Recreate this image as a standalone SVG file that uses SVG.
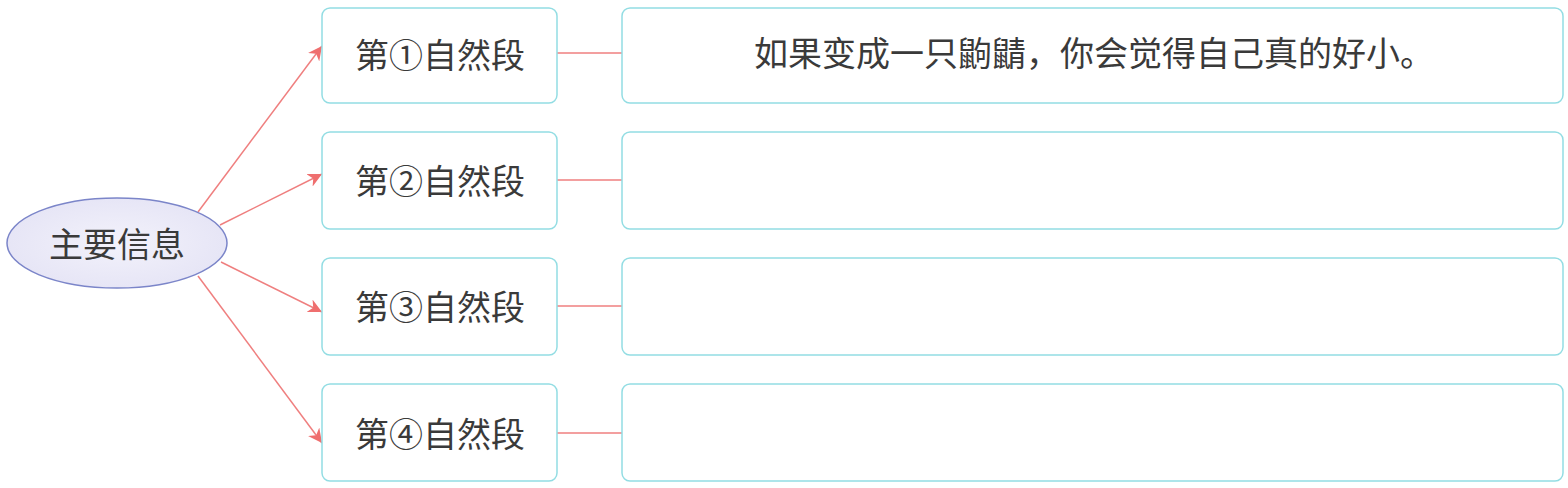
<svg xmlns="http://www.w3.org/2000/svg" width="1568" height="488" viewBox="0 0 1568 488">
<style>
.box{fill:#ffffff;stroke:#93dde3;stroke-width:1.5}
.t{font-family:"Noto Sans CJK SC","Noto Sans CJK JP",sans-serif;font-size:34px;fill:#3a3a3a}
.c{stroke:#ef7f7f;stroke-width:1.5;fill:none}
</style>
<defs>
<marker id="ah" viewBox="0 0 10 10" refX="10" refY="5" markerWidth="14" markerHeight="14" markerUnits="userSpaceOnUse" orient="auto">
<path d="M0,0 L10,5 L0,10 L3,5 Z" fill="#ef6f6f"/>
</marker>
<radialGradient id="eg" cx="50%" cy="50%" r="60%">
<stop offset="0" stop-color="#f3f2fb"/>
<stop offset="1" stop-color="#e4e3f5"/>
</radialGradient>
</defs>
<rect width="1568" height="488" fill="#ffffff"/>
<g id="connectors">
<line class="c" x1="198" y1="212" x2="322" y2="46" marker-end="url(#ah)"/>
<line class="c" x1="220" y1="225" x2="322" y2="174" marker-end="url(#ah)"/>
<line class="c" x1="221" y1="262" x2="322" y2="312" marker-end="url(#ah)"/>
<line class="c" x1="198" y1="276" x2="322" y2="443" marker-end="url(#ah)"/>
<line class="c" x1="557" y1="53" x2="622" y2="53"/>
<line class="c" x1="557" y1="180" x2="622" y2="180"/>
<line class="c" x1="557" y1="306" x2="622" y2="306"/>
<line class="c" x1="557" y1="433" x2="622" y2="433"/>
</g>
<g id="main">
<ellipse cx="117" cy="243" rx="110" ry="45" fill="url(#eg)" stroke="#7b85c9" stroke-width="1.5"/>
<text class="t" x="117" y="257" text-anchor="middle">主要信息</text>
</g>
<g id="p1">
<rect class="box" x="322" y="8" width="235" height="95" rx="8"/>
<text class="t" x="440" y="68" text-anchor="middle">第①自然段</text>
</g>
<g id="p2">
<rect class="box" x="322" y="132" width="235" height="97" rx="8"/>
<text class="t" x="440" y="194" text-anchor="middle">第②自然段</text>
</g>
<g id="p3">
<rect class="box" x="322" y="258" width="235" height="97" rx="8"/>
<text class="t" x="440" y="320" text-anchor="middle">第③自然段</text>
</g>
<g id="p4">
<rect class="box" x="322" y="384" width="235" height="97" rx="8"/>
<text class="t" x="440" y="447" text-anchor="middle">第④自然段</text>
</g>
<g id="a1">
<rect class="box" x="622" y="8" width="941" height="95" rx="8"/>
<text class="t" x="1094" y="66" text-anchor="middle">如果变成一只鼩鼱，你会觉得自己真的好小。</text>
</g>
<g id="a2"><rect class="box" x="622" y="132" width="941" height="97" rx="8"/></g>
<g id="a3"><rect class="box" x="622" y="258" width="941" height="97" rx="8"/></g>
<g id="a4"><rect class="box" x="622" y="384" width="941" height="97" rx="8"/></g>
</svg>
